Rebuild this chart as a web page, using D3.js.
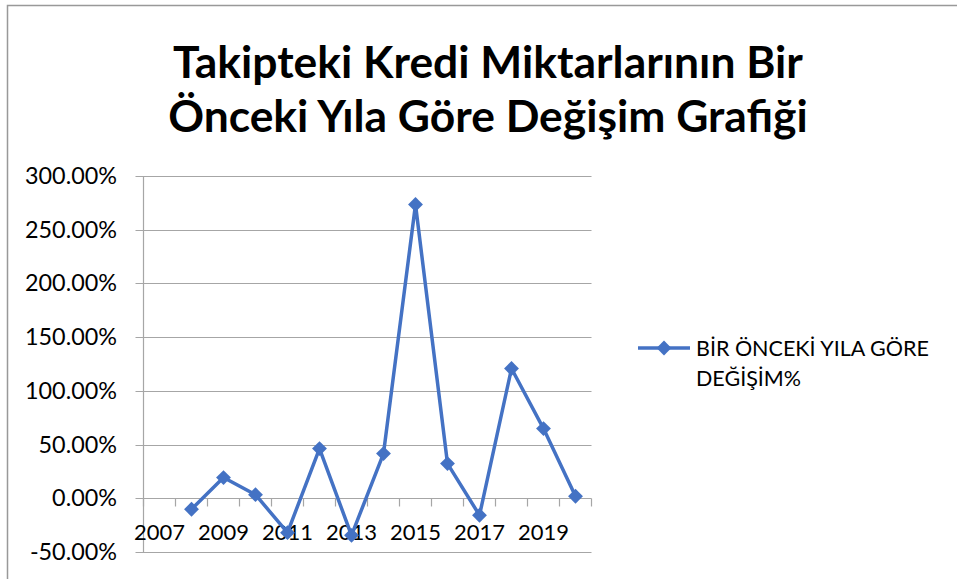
<!DOCTYPE html>
<html>
<head>
<meta charset="utf-8">
<script src="https://cdn.jsdelivr.net/npm/d3@7"></script>
<style>
  body { margin: 0; background: #fff; }
  svg { display: block; font-family: Lato, "Open Sans", sans-serif; }
</style>
</head>
<body>
<div id="chart"></div>
<script>
const years = [2007, 2008, 2009, 2010, 2011, 2012, 2013, 2014, 2015, 2016, 2017, 2018, 2019, 2020];
// yüzde değişim (2007 için veri yok)
const changes = [null, -10.2, 19.3, 3.4, -32.0, 46.3, -34.5, 41.6, 273.5, 32.3, -15.8, 120.8, 64.9, 1.9];
const yTicks = [-50, 0, 50, 100, 150, 200, 250, 300];
const xLabelYears = [2007, 2009, 2011, 2013, 2015, 2017, 2019];
const titleLines = ['Takipteki Kredi Miktarlarının Bir', 'Önceki Yıla Göre Değişim Grafiği'];
const legendLines = ['BİR ÖNCEKİ YILA GÖRE', 'DEĞİŞİM%'];

const W = 957, H = 579;
const plot = {left: 143.5, right: 591.5, top: 176, bottom: 552};
const blue = '#4472C4';
const grid = '#a6a6a6';

const svg = d3.select('#chart')
    .append('svg')
    .attr('width', W)
    .attr('height', H);

// bir örnek metnin genişliğine göre yazı boyutu bul
function fitSize(sample, width, weight) {
    const t = svg.append('text')
        .attr('font-size', 20)
        .attr('font-weight', weight || 'normal')
        .text(sample);
    const len = t.node().getComputedTextLength();
    t.remove();
    return 20 * width / len;
}

const axisSize = fitSize('300.00%', 92);
const yearSize = fitSize('2007', 51);
const legendSize = fitSize(legendLines[0], 233);

// çerçeve
svg.append('path')
    .attr('d', `M7.5,${H + 5} V5.5 H${W + 5}`)
    .attr('fill', 'none')
    .attr('stroke', '#999')
    .attr('stroke-width', 1.5);

// başlık
const title = svg.append('g');
titleLines.forEach((t, i) => {
    title.append('text')
        .attr('x', 488)
        .attr('y', 78 + i * 54)
        .attr('text-anchor', 'middle')
        .attr('font-weight', 'bold')
        .attr('font-size', fitSize(t, i === 0 ? 630 : 640, 'bold'))
        .attr('fill', '#000')
        .text(t);
});

const x = d3.scaleBand()
    .domain(years)
    .range([plot.left, plot.right]);

const y = d3.scaleLinear()
    .domain([-50, 300])
    .range([plot.bottom, plot.top]);

// yatay kılavuz çizgileri
svg.append('g')
    .selectAll('line')
    .data(yTicks)
    .enter()
    .append('line')
    .attr('x1', plot.left - 8)
    .attr('x2', plot.right)
    .attr('y1', d => Math.round(y(d)) + 0.5)
    .attr('y2', d => Math.round(y(d)) + 0.5)
    .attr('stroke', grid)
    .attr('stroke-width', 1.2);

// dikey eksen çizgisi
svg.append('line')
    .attr('x1', plot.left).attr('x2', plot.left)
    .attr('y1', plot.top).attr('y2', plot.bottom)
    .attr('stroke', grid)
    .attr('stroke-width', 1.2);

// y etiketleri
svg.append('g')
    .selectAll('text')
    .data(yTicks)
    .enter()
    .append('text')
    .attr('x', 117)
    .attr('y', d => y(d) + 8)
    .attr('text-anchor', 'end')
    .attr('font-size', axisSize)
    .attr('fill', '#000')
    .text(d => d.toFixed(2) + '%');

// x ekseni (0 çizgisinde)
const y0 = Math.round(y(0)) + 0.5;
const xTicks = years.map(d => x(d)).concat([plot.right]);
svg.append('g')
    .selectAll('line')
    .data(xTicks)
    .enter()
    .append('line')
    .attr('x1', d => d).attr('x2', d => d)
    .attr('y1', y0).attr('y2', y0 + 8)
    .attr('stroke', grid)
    .attr('stroke-width', 1.2);

svg.append('g')
    .selectAll('text')
    .data(xLabelYears)
    .enter()
    .append('text')
    .attr('x', d => x(d) + x.bandwidth() / 2)
    .attr('y', y0 + 41.5)
    .attr('text-anchor', 'middle')
    .attr('font-size', yearSize)
    .attr('fill', '#000')
    .text(d => d);

// veri çizgisi
const data = years.map((d, i) => ({year: d, value: changes[i]})).filter(d => d.value !== null);

const line = d3.line()
    .x(d => x(d.year) + x.bandwidth() / 2)
    .y(d => y(d.value));

svg.append('path')
    .datum(data)
    .attr('fill', 'none')
    .attr('stroke', blue)
    .attr('stroke-width', 3.5)
    .attr('stroke-linejoin', 'round')
    .attr('d', line);

const marker = d3.symbol().type(d3.symbolSquare).size(110);

svg.append('g')
    .selectAll('path')
    .data(data)
    .enter()
    .append('path')
    .attr('transform', d => `translate(${x(d.year) + x.bandwidth() / 2},${y(d.value)}) rotate(45)`)
    .attr('d', marker)
    .attr('fill', blue);

// lejant
const legend = svg.append('g');
legend.append('line')
    .attr('x1', 638).attr('x2', 690)
    .attr('y1', 348).attr('y2', 348)
    .attr('stroke', blue)
    .attr('stroke-width', 3.5);
legend.append('path')
    .attr('transform', 'translate(664,348) rotate(45)')
    .attr('d', marker)
    .attr('fill', blue);
legendLines.forEach((t, i) => {
    legend.append('text')
        .attr('x', 696)
        .attr('y', 356 + i * 30)
        .attr('font-size', legendSize)
        .attr('fill', '#000')
        .text(t);
});
</script>
</body>
</html>
